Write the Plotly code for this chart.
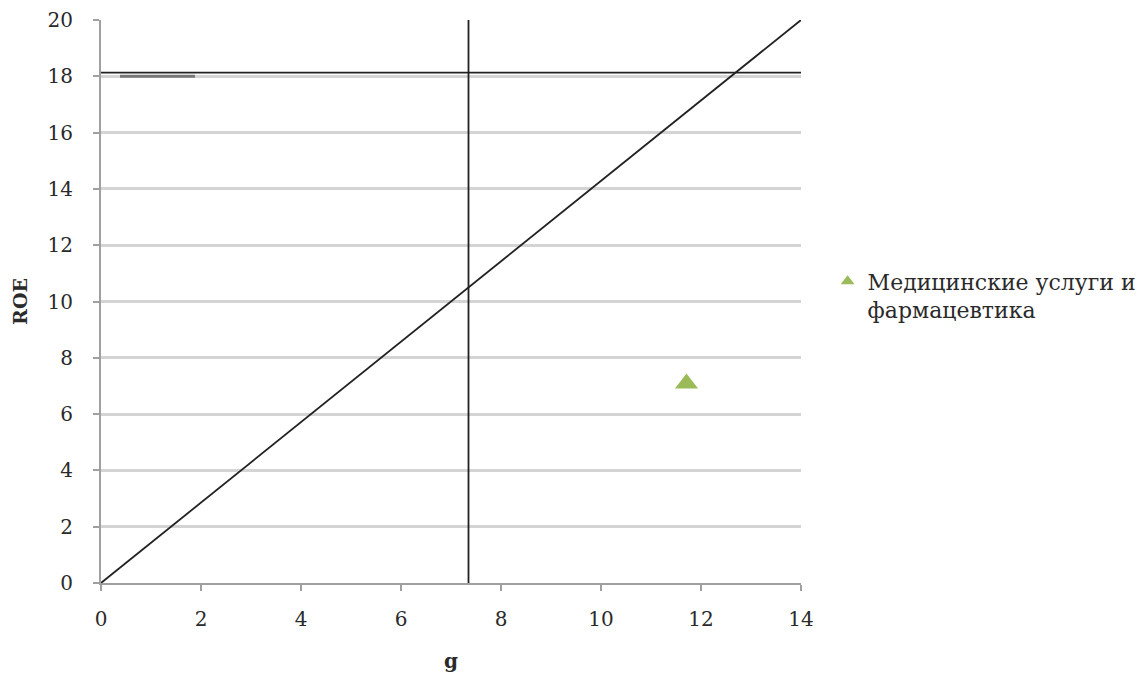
import plotly.graph_objects as go

# Data
diag_x = [0, 14]
diag_y = [0, 20]
roe_level = 18.13
g_level = 7.35
short_x = [0.38, 1.88]
short_y = [18.0, 18.0]
point_name = "Медицинские услуги и<br>фармацевтика"
point_x = [11.71]
point_y = [7.09]
x_ticks = [0, 2, 4, 6, 8, 10, 12, 14]
y_ticks = [0, 2, 4, 6, 8, 10, 12, 14, 16, 18, 20]

font_fam = "DejaVu Serif, Liberation Serif, serif"

fig = go.Figure()
fig.add_trace(go.Scatter(x=diag_x, y=diag_y, mode="lines",
                         line=dict(color="#222222", width=1.8), showlegend=False, hoverinfo="skip"))
fig.add_trace(go.Scatter(x=[0, 14], y=[roe_level, roe_level], mode="lines",
                         line=dict(color="#222222", width=1.8), showlegend=False, hoverinfo="skip"))
fig.add_trace(go.Scatter(x=[g_level, g_level], y=[0, 20], mode="lines",
                         line=dict(color="#222222", width=1.8), showlegend=False, hoverinfo="skip"))
fig.add_trace(go.Scatter(x=short_x, y=short_y, mode="lines",
                         line=dict(color="#777777", width=3), showlegend=False, hoverinfo="skip"))
fig.add_trace(go.Scatter(x=point_x, y=point_y, mode="markers", name=point_name,
                         marker=dict(symbol="triangle-up", size=20, color="#9bbb59")))

fig.update_layout(
    width=1137, height=667,
    margin=dict(l=93, r=344, t=12, b=92, autoexpand=False),
    plot_bgcolor="white", paper_bgcolor="white",
    font=dict(family=font_fam, size=20, color="#2a2a2a"),
    legend=dict(x=1.038, y=0.573, xanchor="left", yanchor="top", valign="top",
                font=dict(family=font_fam, size=22, color="#2a2a2a"),
                itemwidth=30, tracegroupgap=0, itemsizing="constant"),
    xaxis=dict(range=[0, 14], tickvals=x_ticks, showgrid=False, zeroline=False,
               showline=True, linecolor="#a0a0a0", linewidth=2,
               ticks="outside", ticklen=6, tickwidth=2, tickcolor="#a0a0a0",
               ticklabelstandoff=11,
               tickfont=dict(family=font_fam, size=20),
               title=dict(text="<b>g</b>", font=dict(family=font_fam, size=20), standoff=24)),
    yaxis=dict(range=[0, 20], tickvals=y_ticks, showgrid=True, gridcolor="#d4d4d4", gridwidth=3,
               zeroline=False, showline=True, linecolor="#a0a0a0", linewidth=2,
               ticks="outside", ticklen=6, tickwidth=2, tickcolor="#a0a0a0",
               ticklabelstandoff=16,
               tickfont=dict(family=font_fam, size=20),
               title=dict(text="<b>ROE</b>", font=dict(family=font_fam, size=19), standoff=15)),
)

fig.write_html("out.html")
